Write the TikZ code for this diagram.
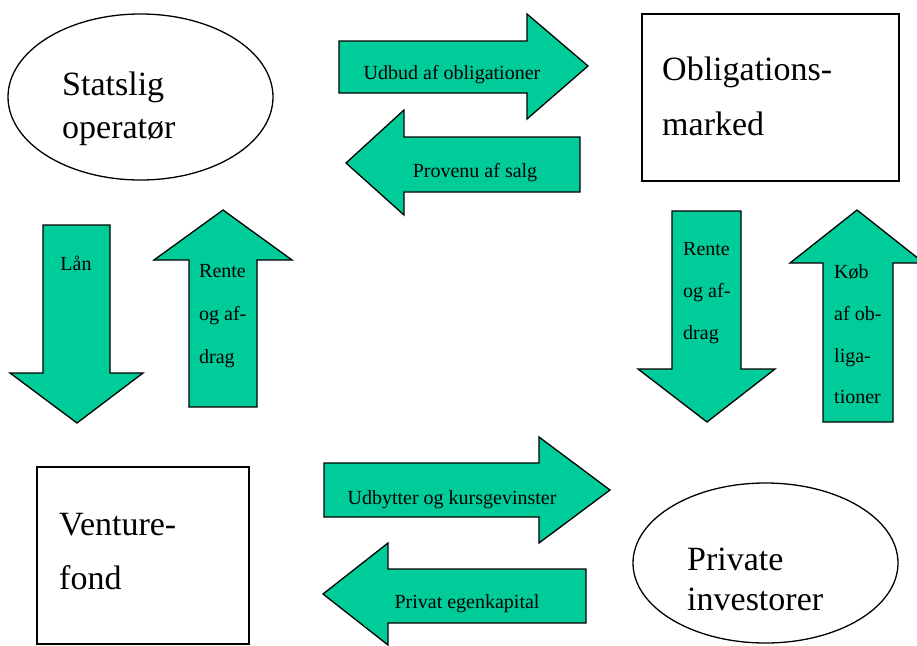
\documentclass[tikz,border=0pt]{standalone}
\usepackage{fontspec}
\setmainfont{Liberation Serif}
\usetikzlibrary{shapes.geometric}
\definecolor{flow}{RGB}{0,204,153}
\begin{document}
\begin{tikzpicture}[x=1pt,y=-1pt,
  blockarrow/.style={draw=black, fill=flow, line width=1.3pt, line join=miter},
  entity/.style={draw=black, line width=1.3pt, inner sep=0pt, fill=white},
  bigtext/.style={anchor=base west, inner sep=0pt, font=\fontsize{34}{40}\selectfont},
  armlabel/.style={inner sep=0pt, font=\fontsize{20}{24}\selectfont},
  armleft/.style={armlabel, anchor=base west},
  armmid/.style={armlabel, anchor=base}]
\useasboundingbox (0,0) rectangle (917,645);

% entities
\node[entity, ellipse, minimum width=265pt, minimum height=166pt] (stat) at (140.5,97) {};
\node[entity, rectangle, minimum width=257pt, minimum height=167pt] (oblig) at (770.5,97.5) {};
\node[entity, rectangle, minimum width=212pt, minimum height=177pt] (venture) at (143,555.5) {};
\node[entity, ellipse, minimum width=265pt, minimum height=160pt] (priv) at (765.5,563) {};

% block arrows
\draw[blockarrow] (339,41) -- (527,41) -- (527,14) -- (588,66) -- (527,119) -- (527,93) -- (339,93) -- cycle;
\draw[blockarrow] (580,137) -- (404,137) -- (404,110) -- (346,163) -- (404,215) -- (404,192) -- (580,192) -- cycle;
\draw[blockarrow] (324,463) -- (539,463) -- (539,437) -- (610,490) -- (539,543) -- (539,517) -- (324,517) -- cycle;
\draw[blockarrow] (586,569) -- (388,569) -- (388,543) -- (323,594) -- (388,645) -- (388,623) -- (586,623) -- cycle;
\draw[blockarrow] (43,225) -- (110,225) -- (110,373) -- (143,373) -- (77,423) -- (10,373) -- (43,373) -- cycle;
\draw[blockarrow] (189,407) -- (189,260) -- (154,260) -- (223,210) -- (292,260) -- (257,260) -- (257,407) -- cycle;
\draw[blockarrow] (672,211) -- (741,211) -- (741,369) -- (775,369) -- (707,422) -- (638,369) -- (672,369) -- cycle;
\draw[blockarrow] (823,422) -- (823,263) -- (790,263) -- (857,210) -- (924,263) -- (893,263) -- (893,422) -- cycle;

% entity texts
\node[bigtext] (t1a) at (62,95) {Statslig};
\node[bigtext] (t1b) at (62,138) {operatør};
\node[bigtext] (t2a) at (662,80) {Obligations-};
\node[bigtext] (t2b) at (662,135) {marked};
\node[bigtext] (t3a) at (59,535) {Venture-};
\node[bigtext] (t3b) at (59,589) {fond};
\node[bigtext] (t4a) at (687,570) {Private};
\node[bigtext] (t4b) at (687,610) {investorer};

% arrow labels
\node[armmid] (l1) at (452,79) {Udbud af obligationer};
\node[armmid] (l2) at (475,177) {Provenu af salg};
\node[armmid] (l3) at (452,504) {Udbytter og kursgevinster};
\node[armmid] (l4) at (467,608) {Privat egenkapital};
\node[armmid] (l5) at (76,270) {Lån};
\node[armleft] (l6a) at (199,277) {Rente};
\node[armleft] (l6b) at (199,320) {og af-};
\node[armleft] (l6c) at (199,363) {drag};
\node[armleft] (l7a) at (683,255) {Rente};
\node[armleft] (l7b) at (683,297) {og af-};
\node[armleft] (l7c) at (683,339) {drag};
\node[armleft] (l8a) at (834,278) {Køb};
\node[armleft] (l8b) at (834,320) {af ob-};
\node[armleft] (l8c) at (834,362) {liga-};
\node[armleft] (l8d) at (834,403) {tioner};
\end{tikzpicture}
\end{document}
